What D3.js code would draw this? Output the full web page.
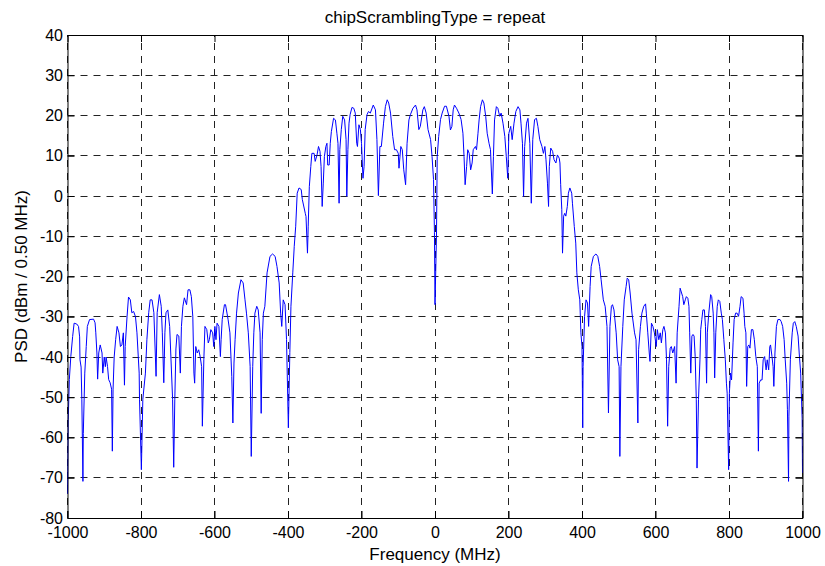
<!DOCTYPE html>
<html>
<head>
<meta charset="utf-8">
<script src="https://cdn.jsdelivr.net/npm/d3@7"></script>
<style>
  body { margin: 0; background: #fff; }
  text { font-family: "Liberation Sans", Arial, Helvetica, sans-serif; }
</style>
</head>
<body>
<div id="chart"></div>
<script>
// Values
const titleText = "chipScramblingType = repeat";
const xLabel = "Frequency (MHz)";
const yLabel = "PSD (dBm / 0.50 MHz)";
const xTicks = [-1000, -800, -600, -400, -200, 0, 200, 400, 600, 800, 1000];
const yTicks = [40, 30, 20, 10, 0, -10, -20, -30, -40, -50, -60, -70, -80];

// frequency (MHz), 10 per line
const freqMHz = [
  -1000, -998, -995, -991, -986, -982, -975, -970, -967, -966,
  -963, -961, -958, -957, -953, -949, -946, -940, -929, -925,
  -923, -920, -918, -915, -911, -906, -904, -900, -897, -895,
  -891, -888, -884, -880, -878, -876, -873, -869, -865, -860,
  -856, -852, -848, -845, -843, -838, -834, -829, -825, -820,
  -815, -811, -805, -804, -799, -795, -788, -784, -779, -775,
  -770, -765, -759, -756, -750, -745, -742, -738, -735, -732,
  -727, -722, -714, -711, -708, -705, -702, -697, -693, -690,
  -686, -682,
  -676, -672, -667, -663, -659, -656, -654, -651, -647, -643,
  -639, -635, -633, -629, -626, -621, -617, -614, -610, -605,
  -602, -599, -596, -593, -588, -584, -582, -579, -573, -570,
  -566, -563, -558, -553, -550, -547, -544, -540, -535, -528,
  -522, -517, -513, -508, -503, -500, -496, -493, -490, -485,
  -481, -476, -473, -470, -467, -463, -457, -449, -442, -435,
  -430, -424, -420, -417, -413, -408, -404, -399, -395, -392,
  -387, -383, -379, -375, -370, -364, -361,
  -353, -351, -347, -345, -342, -338, -335, -329, -326, -321,
  -317, -313, -310, -307, -304, -301, -297, -294, -292, -288,
  -285, -282, -276, -271, -267, -264, -261, -259, -255, -251,
  -246, -242, -240, -237, -234, -231, -226, -221, -217, -213,
  -211, -207, -203, -200, -196, -193, -190, -185, -181, -176,
  -168, -162, -158, -154, -150, -146, -140, -135, -130, -126,
  -121, -115, -110, -105, -100, -98, -93, -89, -85, -80,
  -76, -71, -67, -60, -53, -49, -44, -40, -33, -29,
  -24, -19, -12, -8, -4, -1.5, 0,
  4, 6, 10, 15, 19.5, 26, 31, 38, 42, 46,
  49.5, 53, 58.6, 65, 71, 76, 79, 82, 86, 89,
  93, 97, 101, 104, 110, 113, 117, 120, 124, 129,
  133, 138, 142, 147, 151, 156, 159, 162, 167, 171,
  176, 180, 185, 190, 194, 198, 201, 206, 210, 215,
  220, 226, 231, 234, 238, 241, 244, 249, 253, 258,
  262, 266, 271, 276, 280, 285, 291, 295, 299, 302,
  306, 309, 311, 315, 320, 324, 329, 333, 338,
  340, 342, 345, 347, 350, 353, 356, 360, 363, 367,
  372, 374, 379, 383, 386, 390, 394, 397, 400, 402,
  403, 407, 411, 415, 418, 422, 425, 431, 438, 443,
  448, 452, 458, 463, 468, 472, 476, 480, 483, 487,
  493, 497, 501, 503, 506, 511, 515, 520, 523, 527,
  531, 536, 543, 547, 552, 554, 559, 563, 568, 573,
  575, 579, 583, 585, 589, 593, 597, 602, 605, 609,
  613, 616, 620, 623, 627, 630, 633, 636, 640, 643,
  647, 652, 656, 659, 664, 667,
  674, 677, 681, 684, 688, 691, 693, 696, 699, 702,
  705, 708, 711, 713, 717, 721, 723, 726, 729, 733,
  736, 739, 741, 745, 750, 753, 757, 759, 761, 764,
  768, 771, 775, 779, 782, 786, 790, 793, 795, 799,
  801, 804, 807, 811, 814, 818, 822, 826, 830, 833,
  838, 841, 843, 846, 848, 851, 854, 857, 861, 865,
  869, 873, 877, 880, 882, 886, 890, 893, 897, 901,
  904, 908, 911, 913, 917, 920, 922, 925, 929, 933,
  939, 942, 946, 950, 953, 957, 959, 962, 963, 967,
  972, 975, 979, 983, 988, 991, 995, 999, 1000
];

// PSD (dBm / 0.50 MHz), same layout as freqMHz
const psdDbm = [
  -74, -55.6, -45.6, -39.9, -34.9, -31.6, -31.8, -32.4, -35, -40.7,
  -42.5, -50.5, -70.9, -59, -44, -37.4, -32.4, -30.7, -30.6, -31.5,
  -34, -39, -45.5, -39, -37, -39, -44, -40, -42.4, -40,
  -42.4, -45.6, -46.4, -48, -63.4, -48, -40, -35.7, -32.4, -34,
  -37.4, -37, -34, -47, -37.4, -30, -25.1, -25.8, -29, -28.7,
  -30, -34, -44, -50.5, -68, -50.5, -44, -35.7, -29, -25.8,
  -25.8, -29, -44.8, -29, -24.5, -27.4, -34, -46.4, -34, -29,
  -28.3, -32.4, -50.5, -67.4, -50.5, -38, -34.4, -34.8, -44, -32.4,
  -27.4, -25.3,
  -27, -23.3, -23.3, -25, -30, -44, -46.5, -37.4, -39, -38.2,
  -39.9, -42.4, -57.2, -40.7, -32.4, -33.2, -36.5, -35.7, -33.2, -34,
  -37.4, -32.4, -35.7, -31.6, -32.4, -39.9, -35.7, -30.7, -27, -27,
  -29.1, -30.7, -34, -44.8, -56.4, -41.5, -35.7, -29.1, -24.1, -20.8,
  -21.6, -25.8, -29.1, -34, -42.4, -64.7, -42.4, -34, -29.1, -27.4,
  -28.3, -34, -54, -35.7, -29.1, -27.4, -19.1, -15, -14.4, -15,
  -17.5, -21.6, -29.1, -32.4, -25.8, -27, -35.7, -57.6, -38.9, -27.4,
  -19.1, -12.5, -7.5, 0.7, 2, 1.6, -0.9,
  -4.3, -5.1, -14.2, -7.5, 2.3, 7.3, 10.6, 10.6, 8.6, 10.2,
  12.3, 11.1, 7.3, -2.6, 3.2, 9.8, 12.3, 13.1, 7.7, 7.7,
  13.1, 16, 19.3, 18.9, 15.6, 13.1, -1.8, 11.5, 16.5, 19.8,
  18.9, 14, -0.1, 11.5, 18.1, 20.2, 22, 21.8, 20.6, 13.1,
  12.3, 17.7, 16.5, 13.1, 4.4, 7.3, 16.5, 20.2, 21, 20.6,
  22.6, 21.4, 14, 0.1, 12.3, 12.3, 18.1, 22.2, 23.9, 23.1,
  20.6, 14.8, 11.5, 11.5, 10.6, 6.9, 12.3, 11.5, 6.5, 2.8,
  13.1, 18.9, 20.2, 21.8, 22.6, 21.4, 16.5, 17.3, 21.4, 22.2,
  20.6, 16.5, 14, 9.8, 4.1, -9, -27,
  -10, 9.8, 14.8, 19, 20.6, 22.3, 22.3, 19.8, 16.4, 17.3,
  21.4, 22.6, 21.8, 20.6, 19, 15.6, 9.8, 2.8, 7.3, 11.5,
  10.6, 6.5, 8.2, 11.5, 12.3, 11.5, 15.6, 18.9, 22.2, 23.9,
  23.1, 19.8, 15.6, 13.1, 11.5, 0.5, 9.8, 18.9, 22.2, 21.8,
  19.8, 20.6, 18.1, 14.8, 9.8, 4.4, 15.6, 17.3, 14, 18.1,
  21, 22.2, 21.4, 18.1, 13.1, -0.1, 12.3, 18.1, 19.3, 13.1,
  -1.8, 14, 19, 19.3, 17.3, 14, 12.3, 10.6, 12.3, 9,
  3.2, -2.6, 7.3, 11.9, 11.1, 9, 8.2, 10.2, 9.4,
  8.2, 2.8, -3.4, -14.2, -5, -4.3, -5, -2.6, 0.7, 2,
  0.7, -1.8, -7.6, -11.7, -19.1, -23.3, -25.8, -34, -37.4, -57.6,
  -42.4, -29.9, -25.8, -26.6, -32.4, -22.5, -17.5, -15, -14.4, -15,
  -17.5, -20.8, -25.8, -27.4, -32.4, -53.9, -32.4, -27.4, -27, -28.3,
  -34, -40.7, -42.4, -64.7, -42.4, -32.4, -25.8, -22.5, -20.4, -20.8,
  -24.1, -29.1, -34, -35.7, -56.4, -38.2, -32.4, -29.1, -27.4, -26.8,
  -29.1, -34, -39, -41.1, -31.6, -32.4, -34, -37.4, -33.2, -35.7,
  -34, -36.5, -33.2, -32.4, -34, -40.7, -57.2, -42.4, -37.8, -37.4,
  -39, -37.4, -46.5, -34, -27.4, -22.9,
  -25, -27, -25.8, -25, -25.4, -27.4, -34, -44, -34.8, -34.4,
  -34.8, -39.9, -50.6, -67.6, -50.6, -40.7, -33.2, -30.7, -28.3, -28.3,
  -32.4, -46.5, -34, -29.1, -24.5, -25, -29.1, -34, -45.2, -34,
  -27.4, -25.8, -26.2, -29.1, -30.7, -35.7, -40.7, -46.5, -49, -68,
  -49, -44, -45.7, -36.5, -30.7, -29.1, -29.1, -29.9, -27.4, -25,
  -25.4, -29.1, -32.4, -34, -47.3, -37.4, -37, -37.8, -33.2, -33.2,
  -35.7, -39.9, -42.4, -63.4, -46.5, -45.7, -45.7, -40.7, -39.9, -43.2,
  -40.7, -43.2, -37.4, -37, -39.9, -42.4, -47.3, -39, -32.4, -30.7,
  -30.7, -31.2, -32.4, -35.7, -40.7, -46.5, -53.1, -70.9, -54.7, -40.7,
  -34, -31.6, -31.2, -32.4, -34.8, -39, -44, -55.2, -68.8
];

const width = 825;
const height = 566;
const margin = {top: 35, right: 22.5, bottom: 48, left: 67.5};
const fontFamily = '"Liberation Sans", Arial, Helvetica, sans-serif';

const svg = d3.select("#chart")
    .append("svg")
    .attr("width", width)
    .attr("height", height);

const xScale = d3.scaleLinear()
    .domain([-1000, 1000])
    .range([margin.left, width - margin.right]);

const yScale = d3.scaleLinear()
    .domain([-80, 40])
    .range([height - margin.bottom, margin.top]);

const crisp = v => Math.round(v - 0.5) + 0.5;
const [x0, x1] = xScale.range();
const [y0, y1] = yScale.range();

// Dashed grid
const grid = svg.append("g")
    .attr("fill", "none")
    .attr("stroke", "#222")
    .attr("stroke-width", 1)
    .attr("stroke-dasharray", "7,6");

grid.selectAll(".gx")
    .data(xTicks)
    .join("line")
    .attr("x1", d => crisp(xScale(d)))
    .attr("x2", d => crisp(xScale(d)))
    .attr("y1", y0)
    .attr("y2", y1);

grid.selectAll(".gy")
    .data(yTicks)
    .join("line")
    .attr("y1", d => crisp(yScale(d)))
    .attr("y2", d => crisp(yScale(d)))
    .attr("x1", x0)
    .attr("x2", x1);

// PSD trace
const line = d3.line()
    .x((d, i) => xScale(freqMHz[i]))
    .y((d, i) => yScale(psdDbm[i]));

svg.append("path")
    .datum(psdDbm)
    .attr("fill", "none")
    .attr("stroke", "#0000ff")
    .attr("stroke-width", 1)
    .attr("stroke-linejoin", "round")
    .attr("d", line);

// Axes, ticks pointing inward on all four sides
const label = d => String(d);

function styleAxis(g) {
    g.attr("font-family", fontFamily).attr("font-size", 16);
    g.selectAll("path, line").attr("stroke", "#000");
    g.selectAll("text").attr("fill", "#000");
}

svg.append("g")
    .attr("transform", `translate(0,${y0})`)
    .call(d3.axisBottom(xScale).tickValues(xTicks).tickFormat(label)
        .tickSizeInner(-7).tickSizeOuter(0).tickPadding(9))
    .call(styleAxis);

svg.append("g")
    .attr("transform", `translate(0,${y1})`)
    .call(d3.axisTop(xScale).tickValues(xTicks).tickFormat("")
        .tickSizeInner(-7).tickSizeOuter(0))
    .call(styleAxis);

svg.append("g")
    .attr("transform", `translate(${x0},0)`)
    .call(d3.axisLeft(yScale).tickValues(yTicks).tickFormat(label)
        .tickSizeInner(-7).tickSizeOuter(0).tickPadding(4.5))
    .call(styleAxis);

svg.append("g")
    .attr("transform", `translate(${x1},0)`)
    .call(d3.axisRight(yScale).tickValues(yTicks).tickFormat("")
        .tickSizeInner(-7).tickSizeOuter(0))
    .call(styleAxis);

// Title and axis labels
const midX = (x0 + x1) / 2;

svg.append("text")
    .attr("x", midX)
    .attr("y", 23)
    .attr("text-anchor", "middle")
    .attr("font-size", 17)
    .text(titleText);

svg.append("text")
    .attr("x", midX)
    .attr("y", 560)
    .attr("text-anchor", "middle")
    .attr("font-size", 17)
    .text(xLabel);

svg.append("text")
    .attr("transform", `translate(27,${(y0 + y1) / 2}) rotate(-90)`)
    .attr("text-anchor", "middle")
    .attr("font-size", 17)
    .text(yLabel);
</script>
</body>
</html>
